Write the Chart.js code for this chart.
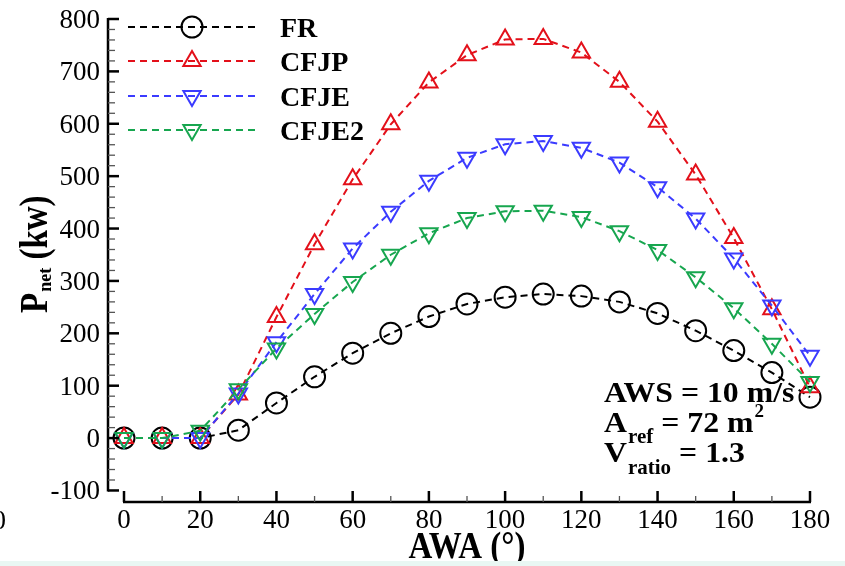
<!DOCTYPE html>
<html>
<head>
<meta charset="utf-8">
<script src="https://cdn.jsdelivr.net/npm/chart.js@4/dist/chart.umd.min.js"></script>
<style>
  html, body { margin: 0; padding: 0; background: #fff; }
  #wrap { width: 845px; height: 566px; position: relative; }
</style>
</head>
<body>
<div id="wrap"><canvas id="pnetChart"></canvas></div>
<script>
const awa = [0, 10, 20, 30, 40, 50, 60, 70, 80, 90, 100, 110, 120, 130, 140, 150, 160, 170, 180];
const fr = [0, 0, 0, 15, 67, 117, 162, 200, 232, 256, 269, 275, 271, 260, 238, 205, 167, 125, 78];
const cfjp = [0, 0, 0, 83, 231, 370, 494, 599, 679, 731, 761, 762, 736, 680, 604, 503, 382, 246, 97];
const cfje = [0, 0, 0, 85, 183, 275, 362, 432, 491, 535, 561, 567, 554, 526, 479, 419, 343, 253, 157];
const cfje2 = [0, 0, 14, 93, 171, 237, 298, 350, 391, 420, 433, 434, 422, 395, 359, 307, 248, 180, 107];

const seriesNames = ['FR', 'CFJP', 'CFJE', 'CFJE2'];
const xTicks = [0, 20, 40, 60, 80, 100, 120, 140, 160, 180];
const yTicks = [-100, 0, 100, 200, 300, 400, 500, 600, 700, 800];

const SERIF = "'Liberation Serif', 'Times New Roman', serif";
Chart.defaults.font.family = SERIF;
const colors = ['#000000', '#e3101a', '#3b3bff', '#17a64f'];
const styles = [
    { pointStyle: 'circle', radius: 10.5, rotation: 0 },
    { pointStyle: 'triangle', radius: 10, rotation: 0 },
    { pointStyle: 'triangle', radius: 10, rotation: 180 },
    { pointStyle: 'triangle', radius: 10, rotation: 180 }
];
const values = [fr, cfjp, cfje, cfje2];

function txt(ctx, s, x, y, size, bold, align, sy, sx) {
    ctx.save();
    ctx.translate(x, y);
    ctx.scale(sx || 1, sy || 1);
    ctx.font = (bold ? 'bold ' : '') + size + 'px ' + SERIF;
    ctx.textAlign = align || 'left';
    ctx.textBaseline = 'alphabetic';
    ctx.fillStyle = '#000';
    ctx.fillText(s, 0, 0);
    const w = ctx.measureText(s).width * (sx || 1);
    ctx.restore();
    return w;
}

const decor = {
    id: 'decor',
    afterDraw(chart) {
        const ctx = chart.ctx;
        const xs = chart.scales.x, ys = chart.scales.y;
        const ax = xs.left, ay = ys.bottom;

        // axis lines
        ctx.save();
        ctx.strokeStyle = '#000';
        ctx.lineWidth = 2.5;
        ctx.beginPath();
        ctx.moveTo(ax, ys.getPixelForValue(800) - 1);
        ctx.lineTo(ax, ys.getPixelForValue(-100) + 1);
        ctx.moveTo(xs.getPixelForValue(0) - 1, ay);
        ctx.lineTo(xs.getPixelForValue(180) + 1, ay);
        ctx.stroke();

        // y ticks
        for (let v = -100; v <= 800; v += 20) {
            const py = ys.getPixelForValue(v);
            const major = v % 100 === 0;
            ctx.lineWidth = major ? 2.5 : 1.3;
            ctx.strokeStyle = major ? '#000' : '#555';
            ctx.beginPath();
            ctx.moveTo(ax, py);
            ctx.lineTo(ax + (major ? 11 : 7), py);
            ctx.stroke();
        }
        // x ticks
        for (let v = 0; v <= 180; v += 10) {
            const px = xs.getPixelForValue(v);
            const major = v % 20 === 0;
            ctx.lineWidth = major ? 2.5 : 1.3;
            ctx.strokeStyle = major ? '#000' : '#555';
            ctx.beginPath();
            ctx.moveTo(px, ay);
            ctx.lineTo(px, ay - (major ? 11 : 6));
            ctx.stroke();
        }
        ctx.restore();

        // tick labels from the scales' ticks
        ys.ticks.forEach(t => txt(ctx, String(t.value), ax - 8, ys.getPixelForValue(t.value) + 9, 27, false, 'right'));
        xs.ticks.forEach(t => txt(ctx, String(t.value), xs.getPixelForValue(t.value), ay + 26, 27, false, 'center'));

        // legend
        const rows = [27, 61, 96, 130];
        seriesNames.forEach((name, i) => {
            const y = rows[i];
            ctx.save();
            ctx.strokeStyle = colors[i];
            ctx.lineWidth = 2;
            ctx.setLineDash([7, 5]);
            ctx.beginPath();
            ctx.moveTo(128, y);
            ctx.lineTo(256, y);
            ctx.stroke();
            ctx.setLineDash([]);
            ctx.fillStyle = 'rgba(0,0,0,0)';
            ctx.lineWidth = 2;
            Chart.helpers.drawPoint(ctx, {
                pointStyle: styles[i].pointStyle,
                radius: styles[i].radius,
                rotation: styles[i].rotation,
                borderWidth: 2
            }, 192, y);
            ctx.restore();
            txt(ctx, name, 280, y + 10, 28, true, 'left');
        });

        // annotation
        const L = 604;
        txt(ctx, 'AWS = 10 m/s', L, 402, 30, true, 'left', 1, 1.06);
        let w = txt(ctx, 'A', L, 432, 30, true, 'left', 1, 1.06);
        let w2 = txt(ctx, 'ref', L + w + 1, 443, 21, true, 'left');
        let w3 = txt(ctx, ' = 72 m', L + w + 1 + w2, 432, 30, true, 'left', 1, 1.06);
        txt(ctx, '2', L + w + 1 + w2 + w3 + 1, 417, 19, true, 'left');
        w = txt(ctx, 'V', L, 462, 30, true, 'left', 1, 1.06);
        w2 = txt(ctx, 'ratio', L + w + 1, 474, 21, true, 'left');
        txt(ctx, ' = 1.3', L + w + 1 + w2, 462, 30, true, 'left', 1, 1.06);

        // y title
        ctx.save();
        ctx.translate(47, 313);
        ctx.rotate(-Math.PI / 2);
        w = txt(ctx, 'P', 0, 0, 33, true, 'left', 1.2);
        w2 = txt(ctx, 'net', w + 1, 4, 18, true, 'left');
        txt(ctx, ' (kw)', w + 1 + w2, 0, 33, true, 'left', 1.2);
        ctx.restore();

        // x title
        txt(ctx, 'AWA (\u00B0)', 467, 558, 33, true, 'center', 1.15);

        // cropped remnant at left edge and bottom band
        txt(ctx, '0', 6, 529, 27, false, 'right');
        ctx.save();
        ctx.fillStyle = '#e9f7f3';
        ctx.fillRect(0, 561, 845, 5);
        ctx.restore();
    }
};

const ctx = document.getElementById('pnetChart').getContext('2d');
const myChart = new Chart(ctx, {
    type: 'line',
    data: {
        labels: awa,
        datasets: seriesNames.map((name, i) => ({
            label: name,
            data: awa.map((a, j) => ({ x: a, y: values[i][j] })),
            borderColor: colors[i],
            borderWidth: 2,
            borderDash: [7, 5],
            pointStyle: styles[i].pointStyle,
            pointRadius: styles[i].radius,
            pointRotation: styles[i].rotation,
            pointBorderWidth: 2,
            pointBorderColor: colors[i],
            pointBackgroundColor: 'rgba(0,0,0,0)',
            fill: false,
            tension: 0,
            clip: false,
            order: 4 - i
        }))
    },
    options: {
        responsive: true,
        maintainAspectRatio: false,
        animation: false,
        devicePixelRatio: 1,
        layout: { padding: { top: 19, right: 35, left: 0, bottom: 0 } },
        plugins: { legend: { display: false }, tooltip: { enabled: false } },
        scales: {
            x: {
                type: 'linear',
                min: -4.2,
                max: 180,
                afterBuildTicks: s => { s.ticks = xTicks.map(v => ({ value: v })); },
                afterFit: s => { s.height = 64; },
                grid: { display: false, drawTicks: false },
                border: { display: false },
                ticks: { display: false }
            },
            y: {
                type: 'linear',
                min: -122,
                max: 800,
                afterBuildTicks: s => { s.ticks = yTicks.map(v => ({ value: v })); },
                afterFit: s => { s.width = 108; },
                grid: { display: false, drawTicks: false },
                border: { display: false },
                ticks: { display: false }
            }
        }
    },
    plugins: [decor]
});
</script>
</body>
</html>
